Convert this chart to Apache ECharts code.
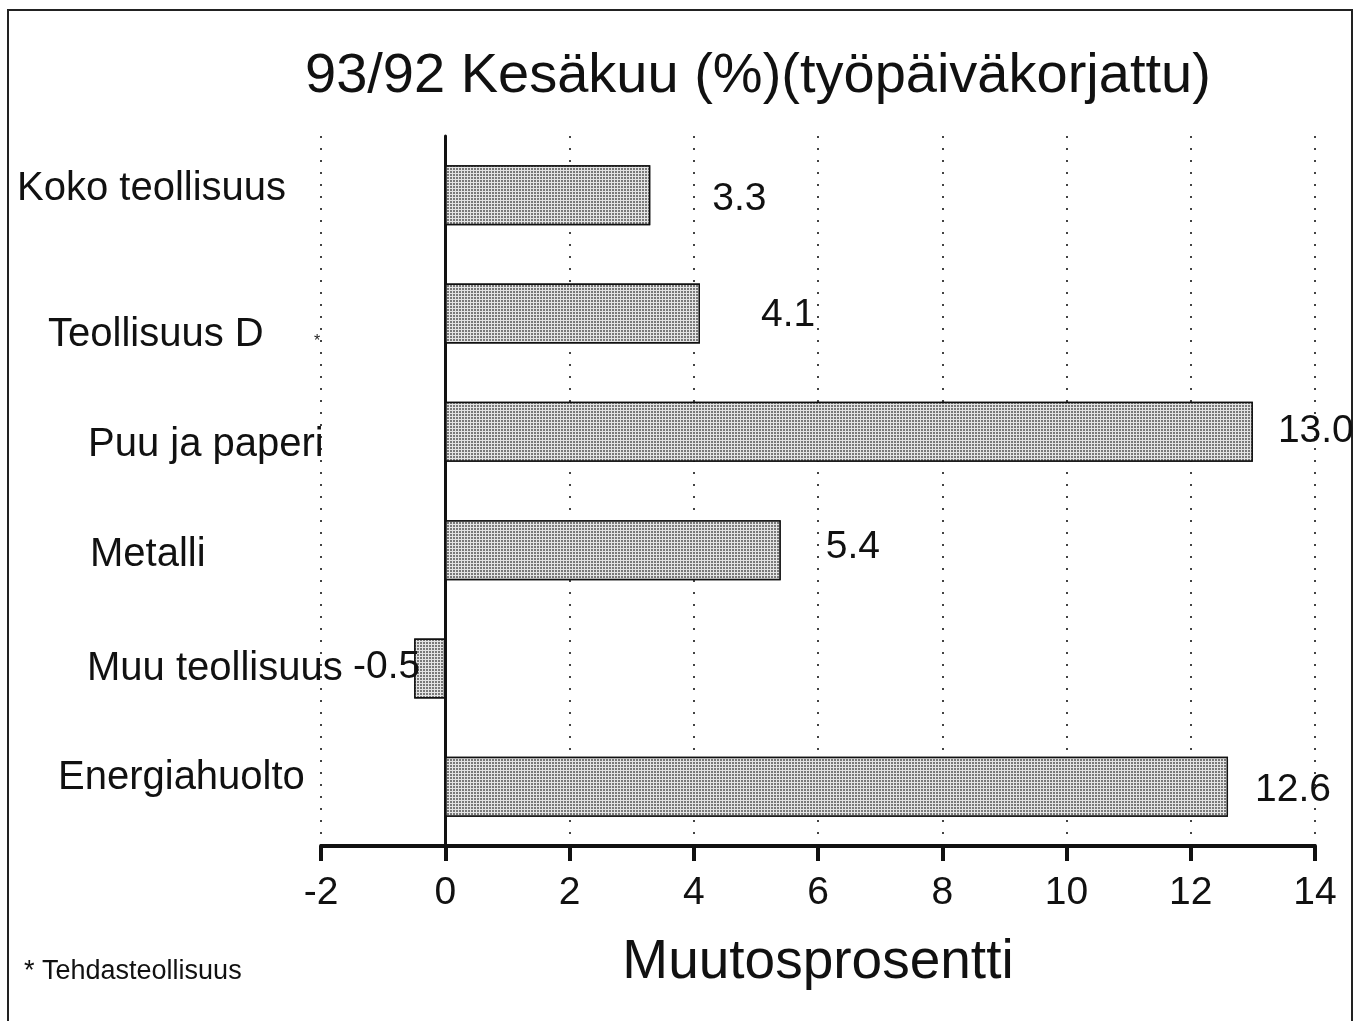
<!DOCTYPE html>
<html lang="fi">
<head>
    <meta charset="UTF-8">
    <title>93/92 Kesäkuu</title>
    <script src="https://cdn.jsdelivr.net/npm/echarts@6/dist/echarts.min.js"></script>
    <style>
        html, body { margin: 0; padding: 0; background: #fff; }
    </style>
</head>
<body>
    <div id="barDiv" style="width: 1354px;height:1021px;"></div>
    <script>
        // data
        var categories = ['Koko teollisuus', 'Teollisuus D', 'Puu ja paperi', 'Metalli', 'Muu teollisuus', 'Energiahuolto'];
        var values = [3.3, 4.1, 13.0, 5.4, -0.5, 12.6];
        var tickLabels = ['-2', '0', '2', '4', '6', '8', '10', '12', '14'];

        // label placement (layout only)
        var catShiftX = [0, 31, 71, 73, 70, 41];
        var catShiftY = [-6, 21, 13, 5, 0, -9];
        var valDist = [62, 61, 25, 45, -6, 27];
        var valShiftY = [4, 2, -1, -3, -1, 3];

        var font = '"Liberation Sans", Arial, Helvetica, sans-serif';

        var rich = {};
        categories.forEach(function (c, i) {
            var dy = catShiftY[i];
            rich['c' + i] = {
                fontSize: 40,
                fontFamily: font,
                color: '#111',
                padding: [dy > 0 ? 2 * dy : 0, 0, dy < 0 ? -2 * dy : 0, catShiftX[i]]
            };
        });

        var seriesData = values.map(function (v, i) {
            return {
                value: v,
                label: {
                    position: v < 0 ? 'left' : 'right',
                    distance: valDist[i],
                    offset: [0, valShiftY[i]]
                }
            };
        });

        var chart = echarts.init(document.getElementById('barDiv'));

        var option = {
            backgroundColor: '#fff',
            animation: false,
            title: {
                text: '93/92 Kesäkuu (%)(työpäiväkorjattu)',
                left: 300,
                top: 44,
                textStyle: { fontFamily: font, fontSize: 56, fontWeight: 'normal', color: '#111' }
            },
            grid: {
                left: 321, right: 39, top: 136, bottom: 175,
                containLabel: false,
                outerBoundsMode: 'none'
            },
            xAxis: {
                type: 'value',
                min: -2,
                max: 14,
                interval: 2,
                name: 'Muutosprosentti',
                nameLocation: 'middle',
                nameGap: 89,
                nameTextStyle: { fontFamily: font, fontSize: 55, color: '#111' },
                axisLine: { show: true, lineStyle: { color: '#111', width: 4 } },
                axisTick: { show: true, length: 15, lineStyle: { color: '#111', width: 4 } },
                axisLabel: {
                    margin: 28,
                    fontFamily: font,
                    fontSize: 39,
                    color: '#111',
                    formatter: function (v) {
                        var i = Math.round((v + 2) / 2);
                        return tickLabels[i] !== undefined ? tickLabels[i] : '';
                    }
                },
                splitLine: {
                    show: true,
                    lineStyle: { color: '#444', width: 2, type: [2, 10] }
                }
            },
            yAxis: {
                type: 'category',
                inverse: true,
                data: categories,
                axisLine: { show: true, onZero: true, lineStyle: { color: '#111', width: 3 } },
                axisTick: { show: false },
                axisLabel: {
                    align: 'left',
                    margin: 304,
                    formatter: function (v, i) {
                        return '{c' + i + '|' + v + '}';
                    },
                    rich: rich
                }
            },
            series: [{
                type: 'bar',
                barWidth: 60,
                data: seriesData,
                itemStyle: {
                    color: '#dedede',
                    borderColor: '#111',
                    borderWidth: 1.5,
                    decal: {
                        symbol: 'rect',
                        symbolSize: 1,
                        dashArrayX: [2, 1],
                        dashArrayY: [2, 1],
                        color: 'rgba(50,50,50,0.6)',
                        backgroundColor: '#e4e4e4'
                    }
                },
                label: {
                    show: true,
                    fontFamily: font,
                    fontSize: 39,
                    color: '#111',
                    formatter: function (p) {
                        return p.value.toFixed(1);
                    }
                }
            }],
            graphic: [
                {
                    type: 'rect',
                    shape: { x: 8, y: 10, width: 1344, height: 1030 },
                    style: { fill: 'none', stroke: '#222', lineWidth: 2 },
                    silent: true
                },
                {
                    type: 'text',
                    left: 314,
                    top: 334,
                    style: { text: '*', fontFamily: font, fontSize: 16, fill: '#222' }
                },
                {
                    type: 'text',
                    left: 24,
                    top: 958,
                    style: { text: '* Tehdasteollisuus', fontFamily: font, fontSize: 27, fill: '#111' }
                }
            ]
        };

        chart.setOption(option);
    </script>
</body>
</html>
